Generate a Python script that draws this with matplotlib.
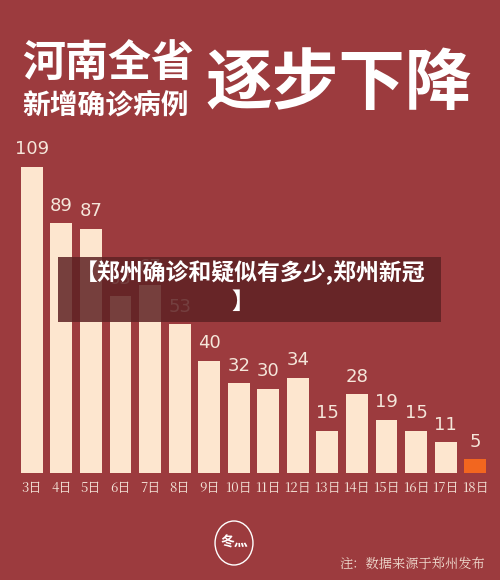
import matplotlib
matplotlib.use("Agg")
import matplotlib.pyplot as plt
from matplotlib.patches import Rectangle, Circle

plt.rcParams['font.family'] = ['Noto Sans CJK SC', 'DejaVu Sans']

days = ["3日","4日","5日","6日","7日","8日","9日","10日","11日","12日","13日","14日","15日","16日","17日","18日"]
cases = [109, 89, 87, 63, 67, 53, 40, 32, 30, 34, 15, 28, 19, 15, 11, 5]

BG = "#9c3b3e"
fig = plt.figure(figsize=(5, 5.8), dpi=100, facecolor=BG)
ax = fig.add_axes([0.034, 1-473/580, 0.946, (473-150)/580])
ax.set_facecolor(BG)
colors = ["#fde6cf"]*(len(cases)-1) + ["#f2661f"]
x = range(len(cases))
ax.bar(x, cases, width=0.74, color=colors)
for i, v in enumerate(cases):
    ax.text(i, v + 3, str(v), ha='center', va='bottom', fontsize=13, color="#f5e6da", family='DejaVu Sans')
ax.set_xlim(-0.5, len(cases)-0.5)
ax.set_ylim(0, 115)
ax.set_xticks(list(x))
ax.set_xticklabels(days, fontsize=9.5, color="#f5e6da", family=['Noto Serif CJK SC','Noto Sans CJK SC'])
ax.tick_params(axis='x', length=0, pad=6)
ax.set_yticks([])
for s in ax.spines.values():
    s.set_visible(False)

fig.text(0.045, 1-64/580, "河南全省", fontsize=31, fontweight='bold', color='white', va='center')
fig.text(0.045, 1-105/580, "新增确诊病例", fontsize=20, fontweight='bold', color='white', va='center')
fig.text(0.41, 1-85/580, "逐步下降", fontsize=48, fontweight='bold', color='white', va='center')

# overlay banner
fig.patches.append(Rectangle((58/500, 1-322/580), 383/500, 65/580, transform=fig.transFigure,
                             facecolor="#5e2224", alpha=0.85, zorder=5))
fig.text(0.5, 1-273/580, "【郑州确诊和疑似有多少,郑州新冠", fontsize=16.5, fontweight='black',
         color='white', ha='center', va='center', zorder=6)
fig.text(0.485, 1-302/580, "】", fontsize=16.5, fontweight='black', color='white', ha='center', va='center', zorder=6)

# logo
fig.patches.append(Circle((234/500, 1-543/580), 22/580*1.0, transform=fig.transFigure,
                          fill=False, edgecolor='white', lw=1))
fig.text(234/500, 1-543/580, "冬灬", fontsize=10, color='white', ha='center', va='center', fontweight='bold')
fig.text(0.97, 1-565/580, "注：数据来源于郑州发布", fontsize=9.5, color="#f0dcd0", ha='right', va='center',
         family=['Noto Serif CJK SC','Noto Sans CJK SC'])

fig.savefig("out.png", dpi=100, facecolor=BG)
